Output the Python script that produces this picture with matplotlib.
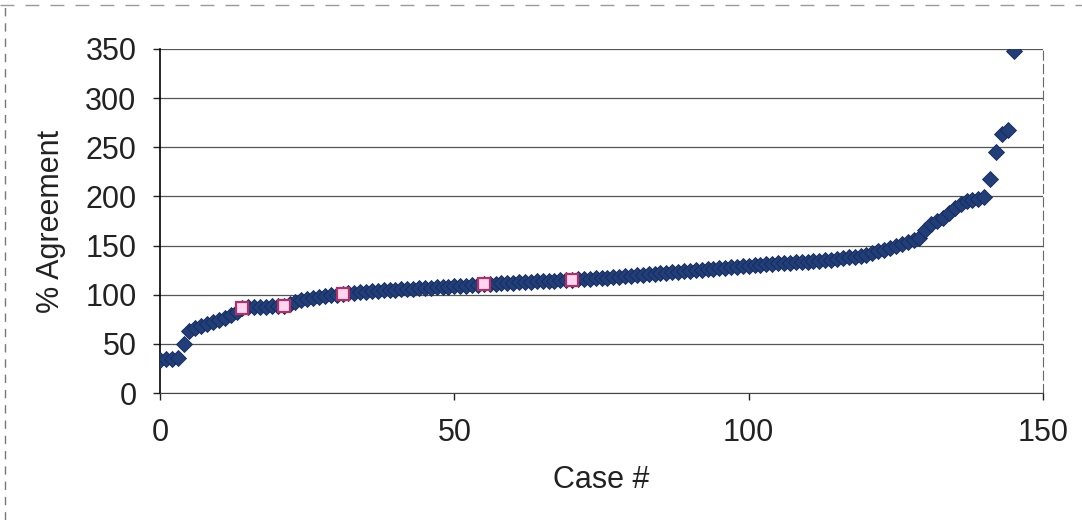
import numpy as np
import matplotlib.pyplot as plt
from matplotlib.lines import Line2D

plt.rcParams['font.family'] = ['Liberation Sans', 'DejaVu Sans']

# % agreement per case, sorted ascending (case 0..145)
agreement = [
    34, 35, 35, 36,
    50,
    63,
    66, 68, 70, 72, 74, 76, 79, 82,
    86,
    87, 87, 88, 88, 89, 89,
    89,
    91, 93, 95, 96, 97, 98, 99, 100, 100,
    101,
    102, 102, 103, 103, 104, 104, 105, 105, 105, 106, 106, 106,
    107, 107, 107, 108, 108, 108, 109, 109, 109, 110, 110,
    111,
    111, 111, 112, 112, 112, 113, 113, 113, 114, 114, 114, 114, 115, 115,
    115,
    116, 116, 116, 117, 117, 117, 118, 118, 119, 119, 120, 120, 121, 121,
    122, 122, 123, 123, 124, 124, 125, 125, 126, 126, 127, 127, 128, 128,
    129, 129, 130, 130, 131, 131,
    132, 132, 132, 133, 133, 133, 134, 134, 135, 135, 136, 137, 138, 138, 139, 140,
    142, 144, 146, 148, 150, 152, 154, 156, 158,
    166, 172,
    175, 178, 183, 188,
    192, 195, 196, 197, 199,
    218, 245, 264, 268, 348,
]
cases = np.arange(len(agreement))

# highlighted cases (pink squares)
hl_cases = [14, 21, 31, 55, 70]
hl_values = [agreement[i] for i in hl_cases]

fig = plt.figure(figsize=(10.82, 5.20), dpi=100)
ax = fig.add_axes([0.1479, 0.2442, 0.8161, 0.6616])

ax.plot(cases, agreement, linestyle='none', marker='D', ms=8.5,
        color='#213e78', markeredgecolor='#15295a', markeredgewidth=0.6, zorder=3)
ax.plot(hl_cases, hl_values, linestyle='none', marker='s', ms=8.5,
        markerfacecolor='#ffd6f0', markeredgecolor='#b0306a', markeredgewidth=1.6, zorder=4)

ax.set_xlim(0, 150)
ax.set_ylim(0, 350)
ax.set_xticks([0, 50, 100, 150])
ax.set_yticks(range(0, 351, 50))
ax.grid(True, axis='y', color='#555555', linewidth=0.9)
ax.set_axisbelow(True)

ax.spines['top'].set_visible(False)
ax.spines['right'].set_color('#666666')
ax.spines['right'].set_linestyle((0, (8, 4)))
ax.spines['left'].set_linewidth(1.2)
ax.spines['bottom'].set_color('#444444')

ax.tick_params(axis='both', labelsize=22, colors='#222222', length=5, width=1)
ax.tick_params(axis='x', pad=13)
ax.tick_params(axis='y', pad=12)
ax.set_xlabel('Case #', fontsize=22, color='#222222', labelpad=12)
ax.set_ylabel('% Agreement', fontsize=22, color='#222222', labelpad=14)

# faint outer chart border (left and top edges)
fig.add_artist(Line2D([0.005, 0.005], [0.0, 0.99], transform=fig.transFigure,
                      color='#777777', lw=1, linestyle=(0, (6, 5))))
fig.add_artist(Line2D([0.0, 1.0], [0.99, 0.99], transform=fig.transFigure,
                      color='#999999', lw=1, linestyle=(0, (10, 8))))

fig.savefig('out.png', dpi=100)
